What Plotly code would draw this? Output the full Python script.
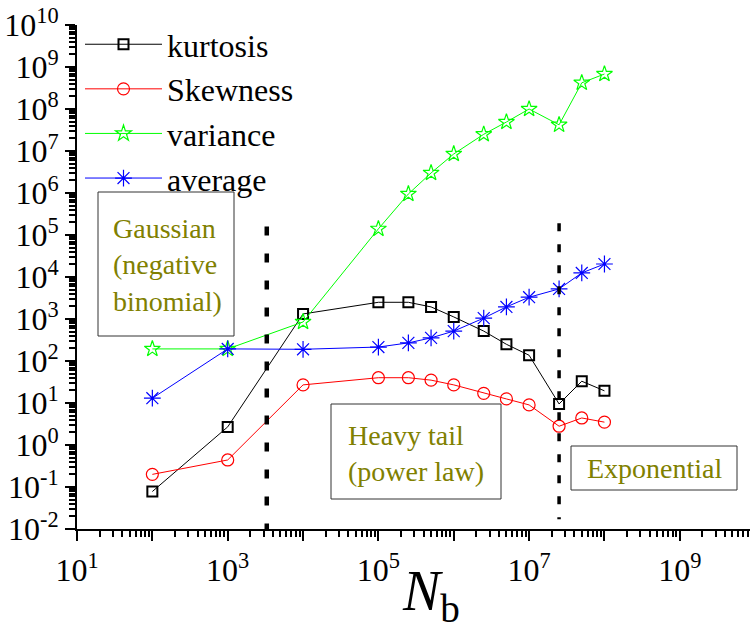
import plotly.graph_objects as go

# ---------------- data ----------------
nb = [1e2, 1e3, 1e4, 1e5, 2.5e5, 5e5, 1e6, 2.5e6, 5e6, 1e7, 2.5e7, 5e7, 1e8]
kurtosis = [0.078, 2.7, 1320, 2500, 2500, 1940, 1120, 515, 250, 137, 9.5, 33, 19.5]
skewness = [0.2, 0.44, 27, 40, 40, 35, 27, 17, 12.5, 9, 2.8, 4.4, 3.5]
variance = [194, 194, 850, 1.4e5, 9.5e5, 3.0e6, 8.5e6, 2.5e7, 4.9e7, 1.0e8, 4.2e7, 4.2e8, 6.8e8]
average = [13, 194, 190, 215, 270, 355, 515, 1050, 1940, 3300, 5200, 12500, 20400]

gauss_boundary_x = [3.3e3, 3.3e3]
gauss_boundary_y = [1.6e5, 1e-2]
exp_boundary_x = [2.5e7, 2.5e7]
exp_boundary_y = [1.9e5, 1.7e-2]

x_exponents = list(range(1, 11))
y_exponents = list(range(-2, 11))

# ---------------- layout geometry ----------------
W, H = 750, 631
L, R, T, B = 77, 0, 25, 102
PW, PH = W - L - R, H - T - B
DEC_X = 75.35
X_RANGE = [1, 1 + PW / DEC_X]
Y_RANGE = [-2, 10]
FONT = "Liberation Serif, Times New Roman, serif"
OLIVE = "#808000"


def px(xp):
    return (xp - L) / PW


def py(yp):
    return (T + PH - yp) / PH


major_x = [10.0 ** e for e in x_exponents]
major_y = [10.0 ** e for e in y_exponents]
minor_x = [m * 10.0 ** e for e in range(0, 10) for m in range(2, 10)]
minor_y = [m * 10.0 ** e for e in range(-3, 10) for m in range(2, 10)]
x_text = [f"10<sup>{e}</sup>" if e % 2 == 1 else "" for e in x_exponents]
y_text = [f"10<sup>{e}</sup>" for e in y_exponents]

fig = go.Figure()

fig.add_trace(go.Scatter(x=nb, y=kurtosis, name="kurtosis", mode="lines+markers",
                         line=dict(color="black", width=1),
                         marker=dict(symbol="square-open", size=10, color="black",
                                     line=dict(width=2, color="black"))))
fig.add_trace(go.Scatter(x=nb, y=skewness, name="Skewness", mode="lines+markers",
                         line=dict(color="#ff0000", width=1),
                         marker=dict(symbol="circle-open", size=12, color="#ff0000",
                                     line=dict(width=1.2, color="#ff0000"))))
fig.add_trace(go.Scatter(x=nb, y=variance, name="variance", mode="lines+markers",
                         line=dict(color="#00ff00", width=1),
                         marker=dict(symbol="star-open", size=12, color="#00ff00",
                                     line=dict(width=1.2, color="#00ff00"))))
fig.add_trace(go.Scatter(x=nb, y=average, name="average", mode="lines+markers",
                         line=dict(color="#0000ff", width=1),
                         marker=dict(symbol="asterisk-open", size=14, color="#0000ff",
                                     line=dict(width=1.2, color="#0000ff"))))

fig.add_trace(go.Scatter(x=gauss_boundary_x, y=gauss_boundary_y, mode="lines",
                         line=dict(color="black", width=4.5, dash="9px,18px"),
                         showlegend=False, hoverinfo="skip"))
fig.add_trace(go.Scatter(x=exp_boundary_x, y=exp_boundary_y, mode="lines",
                         line=dict(color="black", width=3.5, dash="8px,13px"),
                         showlegend=False, hoverinfo="skip"))

axis_common = dict(type="log", showgrid=False, zeroline=False, linecolor="black",
                   tickcolor="black", tickwidth=2)

fig.update_layout(
    width=W, height=H,
    margin=dict(l=L, r=R, t=T, b=B, pad=0),
    paper_bgcolor="white", plot_bgcolor="white",
    font=dict(family=FONT, color="black"),
    showlegend=True,
    legend=dict(x=px(80), y=1.016, xanchor="left", yanchor="top", itemwidth=77,
                bgcolor="rgba(0,0,0,0)", font=dict(size=32, family=FONT, color="black")),
    xaxis=dict(**axis_common, range=X_RANGE, tickmode="array", tickvals=major_x, ticktext=x_text,
               ticks="outside", ticklen=10, showline=True, linewidth=2, ticklabelstandoff=2,
               tickfont=dict(size=32, family=FONT, color="black"),
               minor=dict(tickmode="array", tickvals=minor_x, ticks="outside", ticklen=6,
                          tickwidth=1.5, tickcolor="black")),
    xaxis2=dict(**axis_common, range=X_RANGE, overlaying="x", side="top", anchor="y",
                tickmode="array", tickvals=major_x, showticklabels=False,
                ticks="inside", ticklen=10, showline=True, linewidth=2,
                minor=dict(tickmode="array", tickvals=minor_x, ticks="inside", ticklen=6,
                           tickwidth=1.5, tickcolor="black")),
    yaxis=dict(**axis_common, range=Y_RANGE, tickmode="array", tickvals=major_y, ticktext=y_text,
               ticks="outside", ticklen=10, showline=True, linewidth=2,
               tickfont=dict(size=32, family=FONT, color="black"),
               minor=dict(tickmode="array", tickvals=minor_y, ticks="outside", ticklen=6,
                          tickwidth=1.5, tickcolor="black")),
    yaxis2=dict(**axis_common, range=Y_RANGE, overlaying="y", side="right", anchor="x",
                tickmode="array", tickvals=major_y, showticklabels=False,
                ticks="inside", ticklen=5, showline=False),
)

# region boxes
boxes = [(98, 192, 234, 336), (331, 404, 501, 499), (571, 446, 737, 490)]
for x0, y0, x1, y1 in boxes:
    fig.add_shape(type="rect", xref="paper", yref="paper",
                  x0=px(x0), x1=px(x1), y0=py(y1), y1=py(y0),
                  line=dict(color="#333333", width=1), fillcolor="rgba(0,0,0,0)")

labels = [("Gaussian<br>(negative<br>binomial)", 111, 265),
          ("Heavy tail<br>(power law)", 346, 453),
          ("Exponential", 585, 468)]
for txt, x0, yc in labels:
    fig.add_annotation(text=txt, xref="paper", yref="paper", x=px(x0), y=py(yc),
                       xanchor="left", yanchor="middle", align="left", showarrow=False,
                       font=dict(size=28, family=FONT, color=OLIVE))

fig.add_annotation(text="<i>N</i><sub>b</sub>", xref="paper", yref="paper",
                   x=px(431), y=py(595), xanchor="center", yanchor="middle",
                   showarrow=False, font=dict(size=56, family=FONT, color="black"))

fig.write_html("out.html")
